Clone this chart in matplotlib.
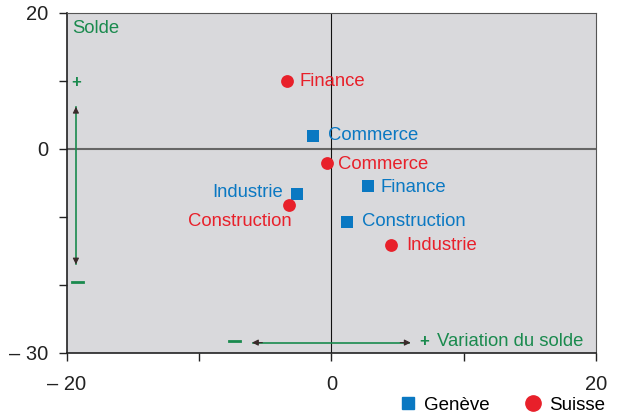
import matplotlib
matplotlib.use('Agg')
import matplotlib.pyplot as plt
from matplotlib.lines import Line2D

plt.rcParams['font.family'] = ['Liberation Sans', 'DejaVu Sans']

# data
sectors = ["Finance", "Commerce", "Construction", "Industrie"]
geneve_x = [2.8, -1.4, 1.2, -2.6]
geneve_y = [-5.5, 1.9, -10.7, -6.7]
suisse_x = [-3.35, -0.3, -3.2, 4.5]
suisse_y = [10.0, -2.1, -8.2, -14.2]

# label offsets in pixels (dx, dy, ha)
geneve_off = [(12, -1, 'left'), (15, 0, 'left'), (15, 0, 'left'), (-14, 2, 'right')]
suisse_off = [(13, -1, 'left'), (11, -1, 'left'), (3, -17, 'right'), (15, 0, 'left')]

blue = '#0a78c2'
red = '#e8202a'
green = '#1a8a4e'
dark = '#3a2a2a'
fs = 13.3

fig = plt.figure(figsize=(6.17, 4.19), dpi=100)
ax = fig.add_axes([0.108, 0.158, 0.858, 0.811])
ax.set_facecolor('#d9d9dc')

ax.set_xlim(-20, 20)
ax.set_ylim(-30, 20)
ax.set_xticks([-20, -10, 0, 10, 20])
ax.set_xticklabels(['\u2013 20', '', '0', '', '20'])
ax.set_yticks([-30, -20, -10, 0, 10, 20])
ax.set_yticklabels(['\u2013 30', '', '', '0', '', '20'])
ax.tick_params(axis='both', labelsize=14.5, length=6, width=1, colors='#222222')
ax.tick_params(axis='x', pad=10)
ax.tick_params(axis='y', pad=7)
for s in ['top', 'right']:
    ax.spines[s].set_color('#555555')
for s in ['left', 'bottom']:
    ax.spines[s].set_color('#222222')
    ax.spines[s].set_linewidth(1.2)

ax.axhline(0, color='#666666', lw=1.5, zorder=1)
ax.axvline(0, color='#111111', lw=0.8, zorder=1)

ax.scatter(geneve_x, geneve_y, marker='s', s=70, color=blue, zorder=3, linewidths=0)
ax.scatter(suisse_x, suisse_y, marker='o', s=85, color=red, zorder=3, linewidths=0)

for name, x, y, (dx, dy, ha) in zip(sectors, geneve_x, geneve_y, geneve_off):
    ax.annotate(name, (x, y), xytext=(dx, dy), textcoords='offset pixels',
                ha=ha, va='center', color=blue, fontsize=fs)
for name, x, y, (dx, dy, ha) in zip(sectors, suisse_x, suisse_y, suisse_off):
    ax.annotate(name, (x, y), xytext=(dx, dy), textcoords='offset pixels',
                ha=ha, va='center', color=red, fontsize=fs)

# axis explanation arrows
ax.plot([-19.3, -19.3], [-17.0, 6.2], color=green, lw=1.2, zorder=2)
ax.annotate('', xy=(-19.3, 6.6), xytext=(-19.3, 5.0),
            arrowprops=dict(arrowstyle='-|>', color=dark, lw=0.8, mutation_scale=9))
ax.annotate('', xy=(-19.3, -17.4), xytext=(-19.3, -15.8),
            arrowprops=dict(arrowstyle='-|>', color=dark, lw=0.8, mutation_scale=9))
ax.text(-19.3, 9.7, '+', color=green, fontsize=12, fontweight='bold', ha='center', va='center')
ax.plot([-19.6, -18.8], [-19.6, -19.6], color=green, lw=2, zorder=2)
ax.text(-19.6, 17.7, 'Solde', color=green, fontsize=fs, ha='left', va='center')

ax.plot([-5.9, 5.9], [-28.5, -28.5], color=green, lw=1.2, zorder=2)
ax.annotate('', xy=(6.2, -28.5), xytext=(5.0, -28.5),
            arrowprops=dict(arrowstyle='-|>', color=dark, lw=0.8, mutation_scale=9))
ax.annotate('', xy=(-6.2, -28.5), xytext=(-5.0, -28.5),
            arrowprops=dict(arrowstyle='-|>', color=dark, lw=0.8, mutation_scale=9))
ax.plot([-7.7, -6.9], [-28.2, -28.2], color=green, lw=2, zorder=2)
ax.text(7.0, -28.4, '+', color=green, fontsize=12, fontweight='bold', ha='center', va='center')
ax.text(8.0, -28.4, 'Variation du solde', color=green, fontsize=fs, ha='left', va='center')

handles = [Line2D([], [], marker='s', color=blue, ls='', markersize=9),
           Line2D([], [], marker='o', color=red, ls='', markersize=11)]
fig.legend(handles, ['Genève', 'Suisse'], ncol=2, frameon=False, fontsize=13.5,
           loc='center', bbox_to_anchor=(0.812, 0.033), handletextpad=0.25,
           columnspacing=1.75, handlelength=1.2)

plt.savefig('out.png')
